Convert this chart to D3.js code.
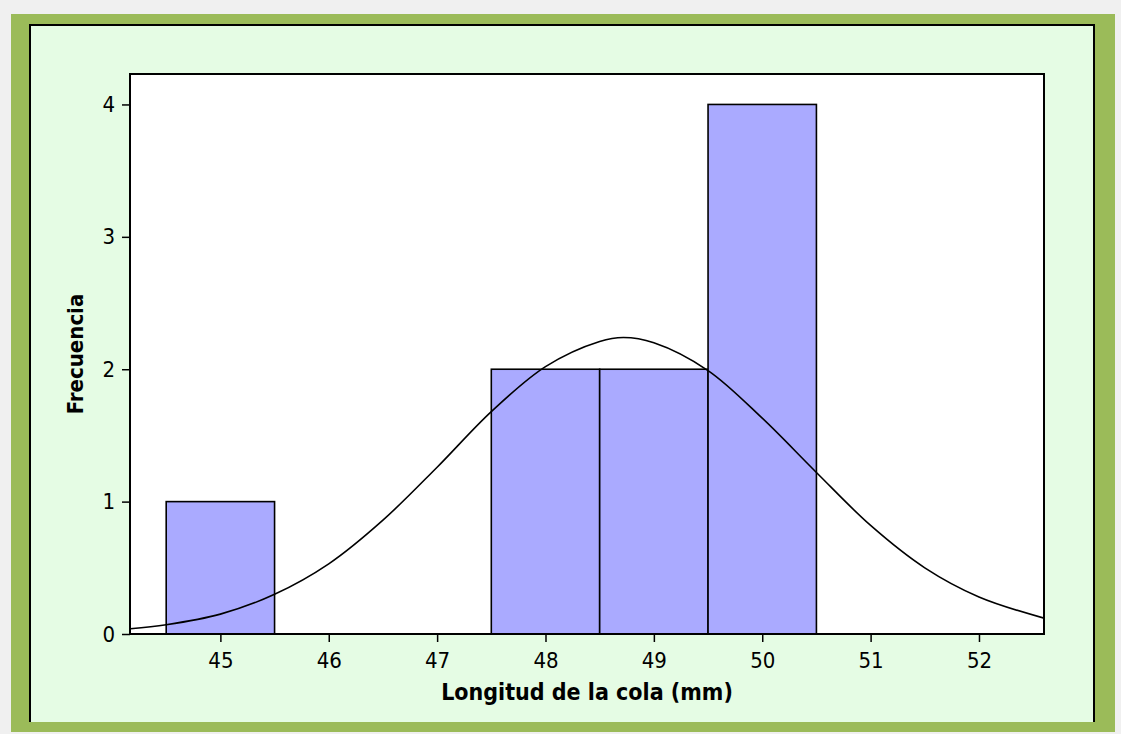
<!DOCTYPE html>
<html>
<head>
<meta charset="utf-8">
<script src="https://cdn.jsdelivr.net/npm/d3@7"></script>
<style>
  body { margin: 0; background: #f0f0f0; }
  svg { display: block; }
  .tick text { font-family: "DejaVu Sans Condensed", "DejaVu Sans", sans-serif; font-size: 22px; fill: #000; }
  .title { font-family: "DejaVu Sans Condensed", "DejaVu Sans", sans-serif; font-size: 22px; font-weight: bold; fill: #000; }
</style>
</head>
<body>
<div id="chart"></div>
<script>
// histogram bins (centre of class, frequency)
var binMids = [45, 46, 47, 48, 49, 50];
var binCounts = [1, 0, 0, 2, 2, 4];
var binWidth = 1;

// fitted normal curve
var curveX = [44.17, 44.5, 45, 45.5, 46, 46.5, 47, 47.5, 48, 48.5, 48.72, 49, 49.5, 50, 50.5, 51, 51.5, 52, 52.6];
var curveY = [0.04, 0.07, 0.15, 0.30, 0.53, 0.86, 1.26, 1.68, 2.02, 2.21, 2.24, 2.20, 1.99, 1.63, 1.22, 0.82, 0.50, 0.28, 0.12];

var xTicks = [45, 46, 47, 48, 49, 50, 51, 52];
var yTicks = [0, 1, 2, 3, 4];

var W = 1121, H = 734;
var margin = {top: 74, right: 77, bottom: 100, left: 130},
    width = W - margin.left - margin.right,
    height = H - margin.top - margin.bottom;

var root = d3.select("#chart")
    .append("svg")
        .attr("width", W)
        .attr("height", H);

// outer green frame and pale panel
root.append("rect")
    .attr("x", 11).attr("y", 14)
    .attr("width", 1104).attr("height", 718)
    .attr("fill", "#9bbb59");
root.append("rect")
    .attr("x", 29).attr("y", 24)
    .attr("width", 1066).attr("height", 698)
    .attr("fill", "#e5fce4");
root.append("path")
    .attr("d", "M30,722V25H1094V722")
    .attr("fill", "none")
    .attr("stroke", "#000")
    .attr("stroke-width", 2);

var svg = root.append("g")
    .attr("transform", "translate(" + margin.left + "," + margin.top + ")");

var x = d3.scaleLinear()
    .domain([44.166, 52.6])
    .range([0, width]);

var y = d3.scaleLinear()
    .domain([0, 4.23])
    .range([height, 0]);

svg.append("rect")
    .attr("width", width)
    .attr("height", height)
    .attr("fill", "#fff");

svg.append("clipPath")
    .attr("id", "plotclip")
  .append("rect")
    .attr("width", width)
    .attr("height", height);

var bins = binMids.map(function(d, i) { return [d, binCounts[i]]; })
    .filter(function(d) { return d[1] > 0; });

svg.selectAll(".bar")
    .data(bins)
  .enter().append("rect")
    .attr("class", "bar")
    .attr("x", function(d) { return x(d[0] - binWidth / 2); })
    .attr("width", function(d) { return x(d[0] + binWidth / 2) - x(d[0] - binWidth / 2); })
    .attr("y", function(d) { return y(d[1]); })
    .attr("height", function(d) { return height - y(d[1]); })
    .attr("fill", "#aaaaff")
    .attr("stroke", "#000")
    .attr("stroke-width", 1.6);

var line = d3.line()
    .x(function(d) { return x(d[0]); })
    .y(function(d) { return y(d[1]); })
    .curve(d3.curveCatmullRom);

svg.append("path")
    .datum(curveX.map(function(d, i) { return [d, curveY[i]]; }))
    .attr("clip-path", "url(#plotclip)")
    .attr("d", line)
    .attr("fill", "none")
    .attr("stroke", "#000")
    .attr("stroke-width", 1.6);

svg.append("rect")
    .attr("width", width)
    .attr("height", height)
    .attr("fill", "none")
    .attr("stroke", "#000")
    .attr("stroke-width", 2);

svg.append("g")
    .attr("class", "x-axis")
    .attr("transform", "translate(0," + height + ")")
    .call(d3.axisBottom(x)
        .tickValues(xTicks)
        .tickSize(8)
        .tickSizeOuter(0)
        .tickPadding(10)
        .tickFormat(d3.format("d")));

svg.append("g")
    .attr("class", "y-axis")
    .call(d3.axisLeft(y)
        .tickValues(yTicks)
        .tickSize(8)
        .tickSizeOuter(0)
        .tickPadding(7)
        .tickFormat(d3.format("d")));

svg.selectAll(".domain").remove();
svg.selectAll(".tick line").attr("stroke", "#000").attr("stroke-width", 1.5);
svg.selectAll(".tick text").attr("font-family", null).attr("font-size", null);

svg.append("text")
    .attr("class", "title")
    .attr("x", width / 2)
    .attr("y", height + 66)
    .attr("text-anchor", "middle")
    .style("font-size", "23px")
    .text("Longitud de la cola (mm)");

svg.append("text")
    .attr("class", "title")
    .attr("transform", "translate(-47," + (height / 2) + ") rotate(-90)")
    .attr("text-anchor", "middle")
    .text("Frecuencia");
</script>
</body>
</html>
